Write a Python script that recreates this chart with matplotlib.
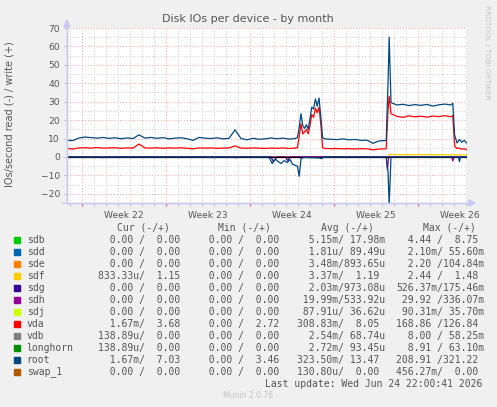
import matplotlib
matplotlib.use('Agg')
import matplotlib.pyplot as plt
from matplotlib.lines import Line2D
from matplotlib.patches import Rectangle, Polygon

W, H = 497, 407

# time axis in days from the left edge of the graph
T_W = [0.0, 0.5, 1.0, 1.5, 2.0, 2.5, 3.0, 3.5, 4.0, 4.5, 5.0, 5.5, 6.0, 6.5,
       7.0, 7.5, 8.0, 8.5, 9.0, 9.5, 10.0, 10.5, 11.0, 11.5, 12.0, 12.5, 13.0,
       13.5, 14.0, 14.5, 15.0, 15.5, 16.0, 16.5, 17.0, 17.5, 18.0, 18.5, 19.0,
       19.2, 19.35, 19.5, 19.65, 19.8, 19.95, 20.1, 20.25, 20.4, 20.55, 20.7,
       20.85, 21.0, 21.15, 21.3, 21.5,
       22.0, 22.5, 23.0, 23.5, 24.0, 24.5, 25.0, 25.5, 26.0, 26.5,
       26.6, 26.75, 26.85, 27.0, 27.5, 28.0, 28.5, 29.0, 29.5, 30.0, 30.5,
       31.0, 31.5, 32.0, 32.15, 32.3, 32.5, 32.7, 32.9, 33.1, 33.3]

ROOT_W = [9.0, 8.9, 10.3, 10.8, 10.5, 10.2, 10.6, 10.1, 10.4, 9.9, 10.3, 10.0,
          12.0, 10.2, 10.6, 10.1, 10.5, 9.8, 10.2, 10.4, 9.9, 9.0, 10.6, 10.2,
          10.0, 10.4, 9.8, 10.1, 14.7, 10.0, 9.3, 10.1, 9.6, 9.8, 10.3, 9.9,
          10.2, 9.7, 10.0,
          10.5, 16.0, 23.5, 17.0, 15.5, 17.5, 15.0, 21.0, 27.0, 26.0, 31.5,
          27.5, 32.0, 22.0, 10.5, 9.8,
          9.6, 9.4, 9.8, 9.3, 9.5, 9.0, 9.1, 7.4, 8.7, 8.9,
          8.9, 40.0, 65.0, 29.5, 28.2, 28.6, 27.9, 28.4, 28.0, 28.5, 27.6,
          28.3, 28.7, 28.2, 29.2, 12.0, 7.6, 9.5, 8.0, 9.0, 7.6]

VDA_W = [4.6, 4.3, 4.9, 5.0, 4.8, 5.1, 4.8, 4.9, 5.0, 4.7, 4.9, 4.8, 7.0, 4.9,
         4.8, 5.0, 4.7, 4.9, 4.8, 5.0, 4.7, 4.4, 4.9, 4.8, 4.9, 4.7, 4.8, 4.9,
         6.0, 4.8, 4.7, 4.9, 4.8, 4.6, 4.8, 4.7, 4.9, 4.6, 4.8,
         5.0, 11.0, 18.0, 12.5, 13.5, 15.0, 12.5, 17.0, 23.0, 21.5, 26.5,
         24.0, 27.0, 18.0, 5.0, 4.6,
         4.5, 4.6, 4.4, 4.5, 4.3, 4.5, 4.4, 3.9, 4.3, 4.4,
         4.4, 25.0, 33.0, 23.5, 22.0, 21.5, 22.3, 21.8, 22.1, 21.6, 22.2,
         21.9, 22.4, 21.8, 22.5, 6.0, 4.6, 4.8, 4.2, 4.4, 4.0]

T_ROOT_R = [0.0, 2.9, 3.0, 3.1, 11.7, 11.8, 11.9, 12.2, 12.3, 12.4, 14.0, 14.1,
            14.2, 16.8, 16.9, 17.1, 17.35, 17.6, 17.85, 18.1, 18.35, 18.6,
            18.8, 19.0, 19.2, 19.35, 19.5, 19.7, 21.0, 21.2, 21.4, 21.6, 26.6,
            26.75, 26.85, 27.0, 32.6, 32.7, 32.8, 33.3]
ROOT_R = [0, 0, -0.5, 0, 0, -0.4, 0, 0, -0.5, 0, 0, -0.6, 0, 0, -1.0, -3.6,
          -1.2, -2.5, -3.5, -2.0, -3.0, -1.5, -4.0, -4.5, -5.0, -10.5, -1.0,
          -0.3, -0.5, -0.9, -0.2, 0, 0, -8.0, -26.0, 0, 0, -2.5, 0, 0]

T_SDH_R = [0.0, 26.6, 26.7, 26.8, 32.05, 32.15, 32.25, 33.3]
SDH_R = [0, 0, -7.0, 0, 0, -2.2, 0, 0]

T_SDG_R = [0.0, 17.0, 17.2, 17.5, 18.2, 18.4, 18.6, 33.3]
SDG_R = [0, 0, -2.5, 0, 0, -2.0, 0, 0]

T_SDF_W = [0.0, 26.8, 26.85, 27.5, 29.0, 31.0, 33.3]
SDF_W = [0, 0, 1.45, 1.2, 1.25, 1.2, 1.15]

WEEK_TICKS = [1.25, 8.25, 15.25, 22.25, 29.25]
WEEK_LABEL_POS = [4.75, 11.75, 18.75, 25.75, 32.75]
WEEK_LABELS = ["Week 22", "Week 23", "Week 24", "Week 25", "Week 26"]

NAMES = ["sdb", "sdd", "sde", "sdf", "sdg", "sdh", "sdj", "vda", "vdb",
         "longhorn", "root", "swap_1"]
COLORS = ["#00CC00", "#0066B3", "#FF8000", "#FFCC00", "#330099", "#990099",
          "#CCFF00", "#FF0000", "#808080", "#008F00", "#00487D", "#B35A00"]
CUR = [("0.00", "0.00"), ("0.00", "0.00"), ("0.00", "0.00"), ("833.33u", "1.15"),
       ("0.00", "0.00"), ("0.00", "0.00"), ("0.00", "0.00"), ("1.67m", "3.68"),
       ("138.89u", "0.00"), ("138.89u", "0.00"), ("1.67m", "7.03"), ("0.00", "0.00")]
MIN = [("0.00", "0.00"), ("0.00", "0.00"), ("0.00", "0.00"), ("0.00", "0.00"),
       ("0.00", "0.00"), ("0.00", "0.00"), ("0.00", "0.00"), ("0.00", "2.72"),
       ("0.00", "0.00"), ("0.00", "0.00"), ("0.00", "3.46"), ("0.00", "0.00")]
AVG = [("5.15m", "17.98m"), ("1.81u", "89.49u"), ("3.48m", "893.65u"),
       ("3.37m", "1.19"), ("2.03m", "973.08u"), ("19.99m", "533.92u"),
       ("87.91u", "36.62u"), ("308.83m", "8.05"), ("2.54m", "68.74u"),
       ("2.72m", "93.45u"), ("323.50m", "13.47"), ("130.80u", "0.00")]
MAX = [("4.44", "8.75"), ("2.10m", "55.60m"), ("2.20", "104.84m"),
       ("2.44", "1.48"), ("526.37m", "175.46m"), ("29.92", "336.07m"),
       ("90.31m", "35.70m"), ("168.86", "126.84"), ("8.00", "58.25m"),
       ("8.91", "63.10m"), ("208.91", "321.22"), ("456.27m", "0.00")]

TXT = '#555555'


def fx(x):
    return x / W


def fy(y):
    return 1 - y / H


def fmt(s):
    if s[-1] in 'mu':
        return s[:-1].rjust(6) + s[-1]
    return s.rjust(6) + ' '


fig = plt.figure(figsize=(W / 100, H / 100), dpi=100, facecolor='#f0f0f0')
ax = fig.add_axes([fx(67), fy(203), 400 / W, 175 / H])
ax.set_facecolor('white')
ax.set_xlim(0, 400 / 12)
ax.set_ylim(-25, 70)

# grid
for k in range(34):
    d = 0.25 + k
    if d not in WEEK_TICKS:
        ax.axvline(d, color='#c8c8c8', lw=0.7, ls=(0, (1, 2)), zorder=1)
for d in WEEK_TICKS:
    ax.axvline(d, color='#f0a0a0', lw=0.7, ls=(0, (1, 2)), zorder=1)
for v in range(-25, 71, 5):
    if v % 10:
        ax.axhline(v, color='#c8c8c8', lw=0.7, ls=(0, (1, 2)), zorder=1)
    else:
        ax.axhline(v, color='#f0a0a0', lw=0.7, ls=(0, (1, 2)), zorder=1)

lw = 0.9
ax.plot(T_SDF_W, SDF_W, color=COLORS[3], lw=lw, zorder=3)
ax.plot(T_SDG_R, SDG_R, color=COLORS[4], lw=lw, zorder=3)
ax.plot(T_SDH_R, SDH_R, color=COLORS[5], lw=lw, zorder=3)
ax.plot(T_W, VDA_W, color=COLORS[7], lw=lw, zorder=4)
ax.plot(T_W, ROOT_W, color=COLORS[10], lw=lw, zorder=5)
ax.plot(T_ROOT_R, ROOT_R, color=COLORS[10], lw=lw, zorder=5)
ax.axhline(0, color='black', lw=0.9, zorder=4)

for s in ['top', 'right']:
    ax.spines[s].set_visible(False)
for s in ['left', 'bottom']:
    ax.spines[s].set_color('#c8c8f4')
    ax.spines[s].set_linewidth(1.0)

ax.set_yticks(range(-20, 71, 10))
ax.tick_params(axis='y', length=2, color='#c0c0c0', labelsize=6.6,
               labelcolor=TXT, pad=3)
ax.set_xticks(WEEK_LABEL_POS, WEEK_LABELS)
ax.tick_params(axis='x', length=0, labelsize=6.6, labelcolor=TXT, pad=6)
ax.set_xticks([0.25 + k for k in range(34)], minor=True)
ax.tick_params(axis='x', which='minor', length=2, color='#b0b0b0')
ax.plot(WEEK_TICKS, [0] * len(WEEK_TICKS), ls='none', marker=3, ms=2.5,
        color='#e07070', transform=ax.get_xaxis_transform(), clip_on=False)

# axis arrows
fig.add_artist(Line2D([fx(67), fx(67)], [fy(203), fy(24)], color='#c8c8f4', lw=1.0))
fig.add_artist(Polygon([[fx(64), fy(27)], [fx(70), fy(27)], [fx(67), fy(20)]],
                       closed=True, color='#c8c8f4', transform=fig.transFigure))
fig.add_artist(Line2D([fx(62), fx(470)], [fy(203), fy(203)], color='#c8c8f4', lw=1.0))
fig.add_artist(Polygon([[fx(469), fy(200)], [fx(469), fy(206)], [fx(475), fy(203)]],
                       closed=True, color='#c8c8f4', transform=fig.transFigure))

fig.text(fx(248), fy(19), "Disk IOs per device - by month", ha='center',
         va='center', fontsize=8, color=TXT)
fig.text(fx(10), fy(114), "IOs/second read (-) / write (+)", rotation=90,
         ha='center', va='center', fontsize=7, color=TXT)
fig.text(fx(487), fy(5), "RRDTOOL / TOBI OETIKER", rotation=270, ha='center',
         va='top', fontsize=5.3, color='#c4c4c4')

# legend
mono = dict(family='DejaVu Sans Mono', fontsize=7, color=TXT, va='center')
for x, h in zip([116.7, 218.3, 320.7, 422.7],
                ["Cur (-/+)", "Min (-/+)", "Avg (-/+)", "Max (-/+)"]):
    fig.text(fx(x), fy(227.5), h, ha='left', **mono)

for i, name in enumerate(NAMES):
    y = 240 + 12 * i
    fig.add_artist(Rectangle((fx(14), fy(y + 3)), 6 / W, 6 / H,
                             color=COLORS[i], transform=fig.transFigure))
    fig.text(fx(26.7), fy(y), name, ha='left', **mono)
    for x, col in zip([97.7, 197.3, 296.7, 396.0], [CUR, MIN, AVG, MAX]):
        r, w = col[i]
        fig.text(fx(x), fy(y), fmt(r) + "/" + fmt(w), ha='left', **mono)

fig.text(fx(482.5), fy(383.7), "Last update: Wed Jun 24 22:00:41 2026",
         ha='right', **mono)
fig.text(fx(248), fy(396), "Munin 2.0.76", ha='center', va='center',
         fontsize=5.5, color='#c4c4c4')

fig.savefig('out.png', dpi=100, facecolor=fig.get_facecolor())
